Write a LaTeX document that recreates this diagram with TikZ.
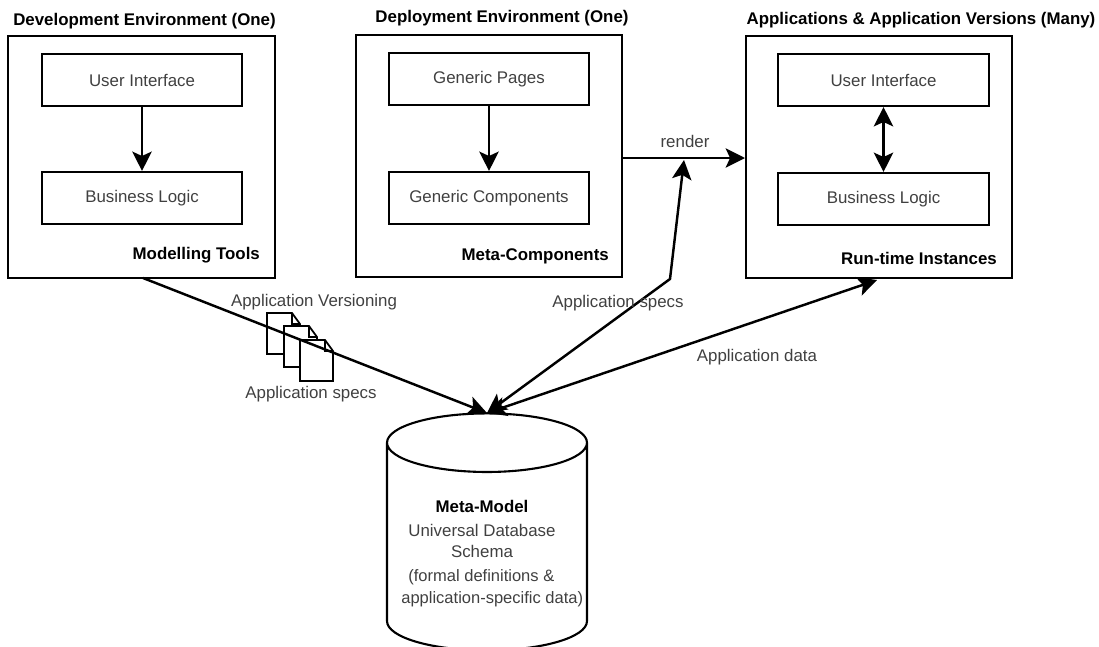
\documentclass[tikz,border=0pt]{standalone}
\usepackage{fontspec}
\setmainfont{Liberation Sans}
\usetikzlibrary{arrows.meta,shapes.geometric}
\tikzset{
  outerbox/.style={draw, line width=1.2pt, minimum height=4.84cm},
  innerbox/.style={draw, line width=1.2pt, minimum height=1.04cm, minimum width=4cm, inner sep=0pt, text=black!75},
  heading/.style={font=\fontsize{9.6}{12}\selectfont\bfseries},
  caption/.style={font=\fontsize{9.6}{12}\selectfont\bfseries},
  plainlabel/.style={font=\fontsize{9.6}{12}\selectfont, text=black!75},
  flow/.style={line width=1.4pt, -{Stealth[length=11pt,width=11pt,inset=2.5pt]}},
  bothflow/.style={line width=1.4pt, {Stealth[length=11pt,width=11pt,inset=2.5pt]}-{Stealth[length=11pt,width=11pt,inset=2.5pt]}},
  specdoc/.pic={
    \draw[line width=1pt, fill=white] (0,0) -- (25,0) -- (33,11) -- (33,41) -- (0,41) -- cycle;
    \draw[line width=1pt] (25,0) -- (25,11) -- (33,11);
  }
}
\begin{document}
\begin{tikzpicture}[x=0.02cm, y=-0.02cm, every node/.append style={font=\fontsize{9.6}{12}\selectfont}]
  \useasboundingbox (0,0) rectangle (1099,646);

  % Development environment
  \node[outerbox, minimum width=5.34cm] (devbox) at (141.5,157) {};
  \node[innerbox] (devui) at (142,80) {User Interface};
  \node[innerbox] (devlogic) at (142,198) {Business Logic};
  \node[heading] (devtitle) at (144.5,21) {Development Environment (One)};
  \node[caption, anchor=east] (devtools) at (266,255) {Modelling Tools};

  % Deployment environment
  \node[outerbox, minimum width=5.32cm] (depbox) at (489,156) {};
  \node[innerbox] (deppages) at (489,79) {Generic Pages};
  \node[innerbox] (depcomps) at (489,198) {Generic Components};
  \node[heading] (deptitle) at (502,18) {Deployment Environment (One)};
  \node[caption, anchor=east] (depmeta) at (615,256) {Meta-Components};

  % Applications
  \node[outerbox, minimum width=5.32cm] (appbox) at (879,157) {};
  \node[innerbox, minimum width=4.22cm] (appui) at (883.5,80) {User Interface};
  \node[innerbox, minimum width=4.22cm] (applogic) at (883.5,199) {Business Logic};
  \node[heading] (apptitle) at (921,20) {Applications \& Application Versions (Many)};
  \node[caption, anchor=east] (apprun) at (1003,258) {Run-time Instances};

  % Database
  \node[cylinder, draw, line width=1.2pt, shape border rotate=90, aspect=5, minimum width=4cm, minimum height=4.74cm] (metadb) at (487,552) {};
  \node[align=center, text=black!75] (dbtext) at (482,529) {\textbf{\textcolor{black}{Meta-Model}}\\[2pt]Universal Database\\Schema};
  \node[align=left, anchor=west, inner sep=0pt, text=black!75, font=\fontsize{9.4}{12.4}\selectfont] (dbnote) at (401,588) {\hspace{4pt}(formal definitions \&\\application-specific data)};

  % Specs
  \foreach \x/\y in {267/313, 284/326, 300/340}
    \pic at (\x,\y) {specdoc};
  \node[plainlabel] (versionlabel) at (314,302) {Application Versioning};
  \node[plainlabel] (specslabel) at (311,394) {Application specs};

  % Connectors
  \coordinate (devout) at (143,278);
  \coordinate (dbtop) at (487,413);
  \coordinate (depout) at (622,158);
  \coordinate (appin) at (745,158);
  \coordinate (kink) at (670,279);
  \coordinate (rendertip) at (684,160);
  \coordinate (appout) at (877,280);
  \draw[flow] (devout) -- (dbtop);
  \draw[bothflow] (dbtop) -- (kink) -- (rendertip);
  \draw[bothflow] (dbtop) -- (appout);
  \draw[flow] (depout) -- (appin);
  \draw[flow] (devui) -- (devlogic);
  \draw[flow] (deppages) -- (depcomps);
  \draw[bothflow] (appui) -- (applogic);

  \node[plainlabel] (renderlabel) at (685,141) {render};
  \node[plainlabel] (speclabel) at (618,303) {Application  specs};
  \node[plainlabel] (datalabel) at (757,357) {Application data};
\end{tikzpicture}
\end{document}
